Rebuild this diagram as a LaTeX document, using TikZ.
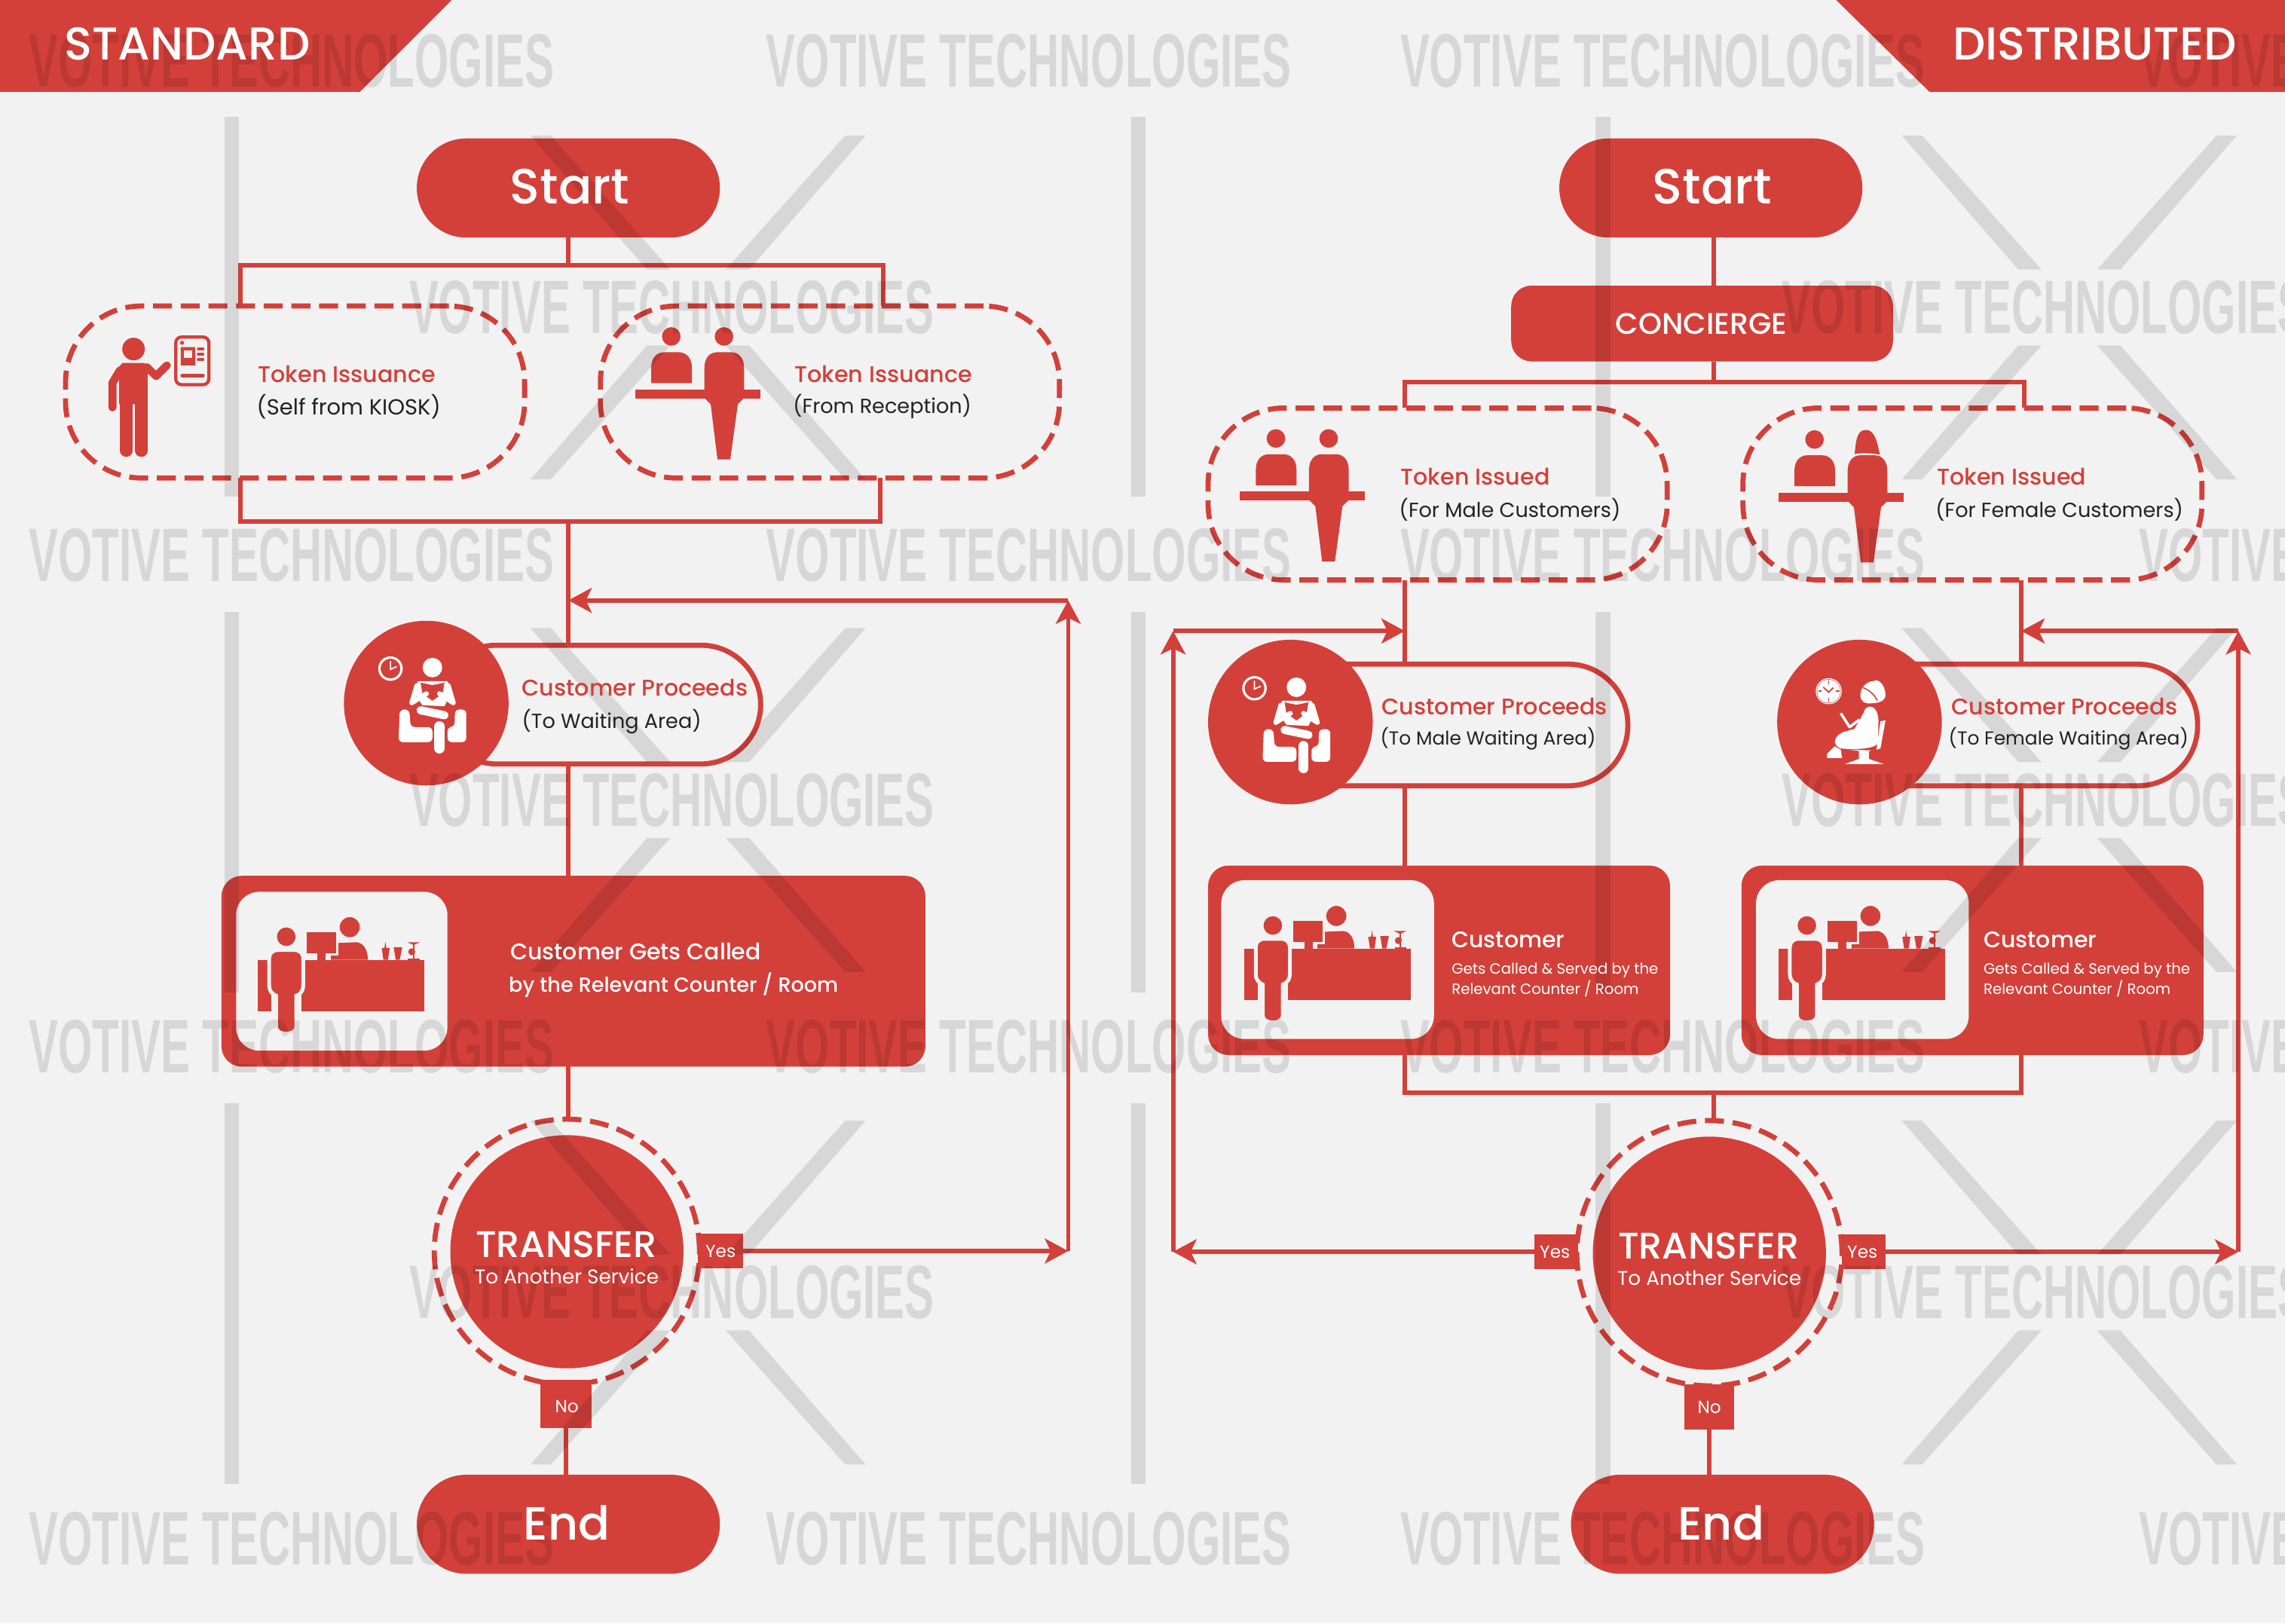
\documentclass[tikz,border=0pt]{standalone}
\usepackage{fontspec}
\setmainfont{Poppins}
\newfontfamily\medfont{Poppins Medium}
\newfontfamily\wmfont{Liberation Sans}
\usepackage{xcolor}
\usetikzlibrary{arrows.meta}

\definecolor{votred}{HTML}{D3403A}
\definecolor{votbg}{HTML}{F2F2F2}
\definecolor{votdark}{HTML}{222222}

\tikzset{
  flowline/.style={votred, line width=3pt},
  flowarrow/.style={flowline, -{Stealth[length=16pt,width=17pt,inset=4pt]}},
  terminal/.style={fill=votred, inner sep=0pt, outer sep=0pt, minimum width=208pt,
    minimum height=68pt, rounded corners=34pt},
  dashbox/.style={draw=votred, line width=3.5pt, dash pattern=on 13pt off 6pt,
    inner sep=0pt, outer sep=0pt, minimum width=315pt, minimum height=118pt, rounded corners=52pt},
  pillbox/.style={draw=votred, fill=votbg, line width=3.5pt, inner sep=0pt, outer sep=0pt,
    minimum width=237pt, minimum height=83.5pt, rounded corners=41pt},
  waitdisc/.style={circle, fill=votred, inner sep=0pt, outer sep=0pt, minimum size=113pt},
  callbox/.style={fill=votred, inner sep=0pt, outer sep=0pt, minimum height=131pt, rounded corners=14pt},
  innerbox/.style={fill=votbg, inner sep=0pt, outer sep=0pt, minimum height=109pt, rounded corners=16pt},
  transdisc/.style={circle, fill=votred, inner sep=0pt, outer sep=0pt, minimum size=160pt},
  transring/.style={circle, draw=votred, line width=3.5pt, dash pattern=on 13pt off 6pt,
    inner sep=0pt, outer sep=0pt, minimum size=182pt},
  tagbox/.style={fill=votred, inner sep=0pt, outer sep=0pt},
  headtxt/.style={white, inner sep=0pt, font=\fontsize{32}{32}\selectfont\medfont},
  bannertxt/.style={white, inner sep=0pt, font=\fontsize{31.6}{31.6}\selectfont\medfont},
  redtxt/.style={votred, anchor=west, inner sep=0pt, font=\fontsize{15.6}{15.6}\selectfont\medfont},
  darktxt/.style={votdark, anchor=west, inner sep=0pt, font=\fontsize{14}{14}\selectfont},
  calltxt/.style={white, anchor=west, inner sep=0pt, font=\fontsize{15.5}{15.5}\selectfont\medfont},
  smalltxt/.style={white, anchor=west, inner sep=0pt, font=\fontsize{10.2}{10.2}\selectfont},
  transtxt/.style={white, inner sep=0pt, font=\fontsize{25.4}{25.4}\selectfont\medfont},
  subtxt/.style={white, inner sep=0pt, font=\fontsize{13.6}{13.6}\selectfont},
  tagtxt/.style={white, inner sep=0pt, font=\fontsize{12}{12}\selectfont},
  wmark/.style={black, opacity=0.11, inner sep=0pt, xscale=0.58, transform shape,
    font=\fontsize{52}{52}\selectfont\wmfont\bfseries},
  wmshape/.style={black, opacity=0.11},
  icon/.style={x=0.1723pt, y=-0.1723pt},
  pics/kioskicon/.style={code={
    \fill[votred] (172,100) circle (45);
    \fill[votred] (128,155) -- (215,155) -- (228,170) -- (228,320) -- (115,320) -- (115,170) -- cycle;
    \draw[votred, line width=5.4pt, line cap=round, line join=round] (225,172) -- (262,208) -- (305,165);
    \draw[votred, line width=5.6pt, line cap=round, line join=round] (118,185) -- (88,235) -- (88,332);
    \draw[votred, line width=8.4pt, line cap=round] (143,320) -- (143,505);
    \draw[votred, line width=8.4pt, line cap=round] (203,320) -- (203,505);
    \draw[votred, line width=2.2pt, rounded corners=4pt] (340,52) rectangle (472,242);
    \fill[votred] (365,75) circle (8);
    \fill[votred, even odd rule] (360,92) rectangle (418,165) (372,105) rectangle (405,135);
    \foreach \py in {100,120,142}
      \draw[votred, line width=2pt, line cap=round] (430,\py) -- (448,\py);
    \draw[votred, line width=2.6pt, line cap=round] (366,206) -- (448,206);
  }},
  pics/recepbody/.style={code={
    \fill[votred] (183,80) circle (37);
    \fill[votred] (103,266) -- (103,205) .. controls (103,165) and (125,143) .. (155,143)
      -- (213,143) .. controls (243,143) and (265,165) .. (265,205) -- (265,266) -- cycle;
    \fill[votred] (40,292) rectangle (537,328);
    \fill[votred] (315,205) .. controls (315,165) and (337,143) .. (365,143) -- (423,143)
      .. controls (451,143) and (473,165) .. (473,205) -- (473,325) -- (448,350)
      -- (418,570) -- (367,570) -- (340,350) -- (315,325) -- cycle;
  }},
  pics/recepmale/.style={code={
    \pic {recepbody};
    \fill[votred] (393,80) circle (37);
  }},
  pics/recepfemale/.style={code={
    \pic {recepbody};
    \fill[votred] (343,138) .. controls (348,80) and (353,42) .. (388,42)
      .. controls (423,42) and (433,90) .. (443,140)
      .. controls (408,135) and (378,132) .. (343,138) -- cycle;
  }},
  pics/clockplain/.style={code={
    \draw[white, line width=1.6pt] (85,112) circle (44);
    \draw[white, line width=0.9pt] (85,82) -- (85,115) -- (110,104);
  }},
  pics/readericon/.style={code={
    \pic {clockplain};
    \fill[white] (252,108) circle (39);
    \fill[white, rounded corners=3pt] (122,275) -- (160,275) -- (165,345) -- (252,345)
      -- (252,405) -- (117,405) -- cycle;
    \fill[white, rounded corners=3pt] (312,345) -- (340,345) -- (342,275) -- (387,275)
      -- (387,405) -- (312,405) -- cycle;
    \fill[white] (195,162) -- (312,162) -- (330,200) -- (300,262) -- (212,258) -- (175,200) -- cycle;
    \fill[votred] (205,168) -- (252,178) -- (300,168) -- (292,212) -- (252,240) -- (212,212) -- cycle;
    \draw[white, line width=3.4pt, line cap=round, line join=round] (190,180) -- (170,248) -- (228,212);
    \draw[white, line width=3.4pt, line cap=round, line join=round] (315,180) -- (335,248) -- (280,212);
    \draw[votred, line width=7.4pt, line cap=round] (205,278) -- (300,298);
    \draw[white, line width=5.6pt, line cap=round] (205,278) -- (300,298);
    \draw[votred, line width=9pt, line cap=round] (280,342) -- (280,432);
    \draw[white, line width=7pt, line cap=round] (280,342) -- (280,430);
  }},
  pics/seatedicon/.style={code={
    \draw[white, line width=0.6pt] (112,112) circle (50);
    \fill[white] (112,112) circle (46);
    \draw[votred, line width=0.8pt] (112,70) -- (112,84) (112,140) -- (112,154)
      (70,112) -- (84,112) (140,112) -- (154,112);
    \draw[votred, line width=0.9pt] (90,96) -- (112,116) -- (130,98);
    \fill[white] (238,125) .. controls (240,95) and (265,72) .. (290,72)
      .. controls (310,60) and (335,85) .. (338,125) .. controls (340,150) and (310,160) .. (285,160)
      .. controls (255,165) and (235,150) .. (238,125) -- cycle;
    \draw[votred, line width=0.8pt] (248,98) .. controls (270,105) and (295,125) .. (305,150);
    \fill[white] (268,175) .. controls (290,170) and (308,185) .. (310,230) -- (308,320)
      .. controls (290,345) and (200,345) .. (160,340) .. controls (125,330) and (130,290) .. (170,275)
      -- (215,262) -- (250,200) .. controls (255,185) and (260,178) .. (268,175) -- cycle;
    \draw[white, line width=1.8pt, line join=round] (160,200) -- (195,255) -- (235,225);
    \fill[white] (318,232) -- (338,228) -- (318,340) -- (302,345) -- cycle;
    \fill[white] (135,332) -- (105,362) -- (105,378) -- (165,378) -- (160,345) -- cycle;
    \fill[white] (190,345) -- (280,348) -- (272,352) -- (272,382) -- (330,402) -- (177,402) -- (232,382) -- (232,350) -- cycle;
  }},
  pics/countericon/.style={code={
    \fill[votred] (240,222) rectangle (730,428);
    \fill[votred] (67,222) rectangle (120,428);
    \fill[votred] (262,113) rectangle (378,197);
    \fill[votred] (305,197) rectangle (338,222);
    \fill[votred] (433,92) circle (40);
    \fill[votred] (358,205) -- (388,205) -- (388,155) -- (460,152)
      .. controls (490,155) and (505,185) .. (505,222) -- (358,222) -- cycle;
    \fill[votred] (560,175) -- (592,175) -- (585,222) -- (567,222) -- cycle;
    \fill[votred] (571,175) -- (575,150) -- (579,175) -- cycle;
    \fill[votred] (608,172) -- (642,172) -- (632,222) -- (616,222) -- cycle;
    \fill[votred] (662,152) -- (712,152) -- (690,162) -- (684,162) -- cycle;
    \fill[votred] (680,190) circle (14);
    \fill[votred] (684,160) rectangle (690,222);
    \fill[votred] (665,216) rectangle (712,222);
    \fill[votred, draw=votbg, line width=2.6pt] (150,183) -- (210,183)
      .. controls (235,183) and (248,195) .. (248,220) -- (248,325)
      .. controls (248,345) and (235,360) .. (220,365) -- (220,490)
      .. controls (220,525) and (140,525) .. (140,490) -- (140,365)
      .. controls (125,360) and (112,345) .. (112,325) -- (112,220)
      .. controls (112,195) and (125,183) .. (150,183) -- cycle;
    \fill[votred] (180,130) circle (37);
  }},
}

\begin{document}
\begin{tikzpicture}[x=1pt, y=-1pt]
  \clip (0,0) rectangle (1568,1114);
  \fill[votbg] (0,0) rectangle (1568,1114);

  \fill[votred] (0,0) -- (310,0) -- (247,63) -- (0,63) -- cycle;
  \fill[votred] (1260,0) -- (1568,0) -- (1568,63) -- (1324,63) -- cycle;

  % standard
  \node[terminal] (startL) at (390,129) {};
  \node[dashbox] (tokenSelf) at (202.5,269) {};
  \node[dashbox] (tokenDesk) at (569.5,269) {};
  \node[pillbox, minimum width=222pt, minimum height=81.5pt] (pillL) at (411,483.5) {};
  \node[callbox, minimum width=483pt] (callL) at (393.5,666.5) {};
  \node[transdisc] (transL) at (389,859) {};
  \node[transring] (ringL) at (389,859) {};
  \node[tagbox, minimum width=31pt, minimum height=24pt] (yesL) at (494.5,858.5) {};
  \node[tagbox, minimum width=35pt, minimum height=33pt] (noL) at (388.5,963.5) {};
  \node[terminal] (endL) at (390,1046) {};
  \coordinate (busTopL) at (390,182);
  \coordinate (busBotL) at (390,358);
  \coordinate (loopBL) at (733,858.5);
  \coordinate (loopTL) at (733,412);

  \draw[flowline] (startL.south) -- (busTopL);
  \draw[flowline] ([xshift=-37.5pt]tokenSelf.north) |- (busTopL) -| ([xshift=36.5pt]tokenDesk.north);
  \draw[flowline] ([xshift=-37.5pt]tokenSelf.south) |- (busBotL) -| ([xshift=34.5pt]tokenDesk.south);
  \draw[flowline] (busBotL) -- (busBotL |- pillL.north);
  \draw[flowline] (busBotL |- pillL.south) -- (busBotL |- callL.north);
  \draw[flowline] (busBotL |- callL.south) -- (busBotL |- ringL.north);
  \draw[flowline] (noL.south) -- (noL.south |- endL.north);
  \draw[flowarrow] (yesL.east) -- (loopBL);
  \draw[flowarrow] (loopBL) -- (loopTL);
  \draw[flowarrow] (loopTL) -- (loopTL -| busBotL);

  \node[waitdisc] (discL) at (292.5,482.5) {};
  \node[innerbox, minimum width=145pt] (innerL) at (234.5,666.5) {};

  % distributed
  \node[terminal] (startR) at (1174,129) {};
  \node[fill=votred, inner sep=0pt, outer sep=0pt, minimum width=262pt, minimum height=52pt,
    rounded corners=14pt] (concR) at (1168,222) {};
  \node[dashbox] (tokenMale) at (986.5,339) {};
  \node[dashbox] (tokenFemale) at (1353.5,339) {};
  \node[pillbox] (pillM) at (998.5,497.5) {};
  \node[pillbox] (pillF) at (1389.5,497.5) {};
  \node[callbox, minimum width=317pt, minimum height=130pt] (callM) at (987.5,659) {};
  \node[callbox, minimum width=317pt, minimum height=130pt] (callF) at (1353.5,659) {};
  \node[transdisc] (transR) at (1173,860) {};
  \node[transring] (ringR) at (1173,860) {};
  \node[tagbox, minimum width=30pt, minimum height=24pt] (yesRL) at (1068,859) {};
  \node[tagbox, minimum width=30pt, minimum height=24pt] (yesRR) at (1279,859) {};
  \node[tagbox, minimum width=34pt, minimum height=31pt] (noR) at (1173,965.5) {};
  \node[terminal] (endR) at (1182,1046) {};
  \coordinate (busTopR) at (1176,262);
  \coordinate (busBotR) at (1176,750);
  \coordinate (colM) at (964,433);
  \coordinate (colF) at (1387,433);
  \coordinate (loopBM) at (805,859);
  \coordinate (loopTM) at (805,433);
  \coordinate (loopBF) at (1536,859);
  \coordinate (loopTF) at (1536,433);

  \draw[flowline] (busTopR |- startR.south) -- (busTopR |- concR.north);
  \draw[flowline] (busTopR |- concR.south) -- (busTopR);
  \draw[flowline] ([xshift=-22.5pt]tokenMale.north) |- (busTopR) -| ([xshift=35.5pt]tokenFemale.north);
  \draw[flowline] (colM |- tokenMale.south) -- (colM |- pillM.north);
  \draw[flowline] (colF |- tokenFemale.south) -- (colF |- pillF.north);
  \draw[flowline] (colM |- pillM.south) -- (colM |- callM.north);
  \draw[flowline] (colF |- pillF.south) -- (colF |- callF.north);
  \draw[flowline] (colM |- callM.south) |- (busBotR) -| (colF |- callF.south);
  \draw[flowline] (busBotR) -- (busBotR |- ringR.north);
  \draw[flowline] (noR.south) -- (noR.south |- endR.north);
  \draw[flowarrow] (yesRL.west) -- (loopBM);
  \draw[flowarrow] (loopBM) -- (loopTM);
  \draw[flowarrow] (loopTM) -- (colM);
  \draw[flowarrow] (yesRR.east) -- (loopBF);
  \draw[flowarrow] (loopBF) -- (loopTF);
  \draw[flowarrow] (loopTF) -- (colF);

  \node[waitdisc] (discM) at (885.5,495.5) {};
  \node[waitdisc] (discF) at (1276,495.5) {};
  \node[innerbox, minimum width=146pt] (innerM) at (911,658.5) {};
  \node[innerbox, minimum width=146pt] (innerF) at (1278,658.5) {};

  % icons
  \path (62,222.3) pic[icon] {kioskicon};
  \path (429.1,217.1) pic[icon] {recepmale};
  \path (844,287.1) pic[icon] {recepmale};
  \path (1213.6,287.8) pic[icon] {recepfemale};
  \path (253.3,439.5) pic[icon] {readericon};
  \path (846.2,453) pic[icon] {readericon};
  \path (1235.6,455) pic[icon] {seatedicon};
  \path (165.4,620.4) pic[icon] {countericon};
  \path (842.4,612.7) pic[icon] {countericon};
  \path (1208.9,612.7) pic[icon] {countericon};

  % watermark
  \foreach \wx in {200,706,1141,1648}
    \foreach \wy in {42,381,718,1056}
      \node[wmark] (wm\wx-\wy) at (\wx,\wy) {VOTIVE TECHNOLOGIES};
  \foreach \wx in {461,1403}
    \foreach \wy in {211,549,887}
      \node[wmark] (wm\wx-\wy) at (\wx,\wy) {VOTIVE TECHNOLOGIES};
  \foreach \bx in {159,781,1100}
    \foreach \by in {80,420,757}
      \fill[wmshape] (\bx-5,\by) rectangle (\bx+5,\by+261);
  \foreach \xc in {479,1420}
    \foreach \yc in {211,549,887}
      \foreach \sx in {-1,1}
        \foreach \sy in {-1,1}
          \fill[wmshape] (\xc+\sx*115,\yc+\sy*118) -- (\xc+\sx*101,\yc+\sy*118)
            -- (\xc+\sx*19,\yc+\sy*26) -- (\xc+\sx*35,\yc+\sy*26) -- cycle;

  % labels
  \node[bannertxt, anchor=west] (titleL) at (44,30) {STANDARD};
  \node[bannertxt, anchor=west] (titleR) at (1340,30) {DISTRIBUTED};
  \node[headtxt, font=\fontsize{34}{34}\selectfont\medfont] (startLtxt) at (391,128) {Start};
  \node[headtxt, font=\fontsize{34}{34}\selectfont\medfont] (startRtxt) at (1175,128) {Start};
  \node[headtxt] (endLtxt) at (389,1045) {End};
  \node[headtxt] (endRtxt) at (1181,1045) {End};
  \node[white, inner sep=0pt, font=\fontsize{20.4}{20.4}\selectfont\medfont] (concTxt) at (1167.5,222) {CONCIERGE};

  \node[redtxt] (tokenSelfa) at (177,257) {Token Issuance};
  \node[darktxt, font=\fontsize{15}{15}\selectfont] (tokenSelfb) at (176,279) {(Self from KIOSK)};
  \node[redtxt] (tokenDeska) at (545,257) {Token Issuance};
  \node[darktxt] (tokenDeskb) at (544,279) {(From Reception)};
  \node[redtxt] (tokenMalea) at (961,327) {Token Issued};
  \node[darktxt] (tokenMaleb) at (960,350) {(For Male Customers)};
  \node[redtxt] (tokenFemalea) at (1329,327) {Token Issued};
  \node[darktxt] (tokenFemaleb) at (1328,350) {(For Female Customers)};

  \node[redtxt] (pillLa) at (358,472) {Customer Proceeds};
  \node[darktxt] (pillLb) at (358,495) {(To Waiting Area)};
  \node[redtxt] (pillMa) at (948,485) {Customer Proceeds};
  \node[darktxt, font=\fontsize{12.9}{12.9}\selectfont] (pillMb) at (947,507) {(To Male Waiting Area)};
  \node[redtxt] (pillFa) at (1339,485) {Customer Proceeds};
  \node[darktxt, font=\fontsize{12.9}{12.9}\selectfont] (pillFb) at (1337,507) {(To Female Waiting Area)};

  \node[calltxt] (callLa) at (350,653) {Customer Gets Called};
  \node[calltxt, font=\fontsize{14}{14}\selectfont\medfont] (callLb) at (349,676) {by the Relevant Counter / Room};
  \node[calltxt] (callMa) at (996,645) {Customer};
  \node[smalltxt] (callMb) at (996,666) {Gets Called \& Served by the};
  \node[smalltxt] (callMc) at (996,678.5) {Relevant Counter / Room};
  \node[calltxt] (callFa) at (1361,645) {Customer};
  \node[smalltxt] (callFb) at (1361,666) {Gets Called \& Served by the};
  \node[smalltxt] (callFc) at (1361,678.5) {Relevant Counter / Room};

  \node[transtxt] (transLa) at (388.5,854) {TRANSFER};
  \node[subtxt] (transLb) at (389,876) {To Another Service};
  \node[transtxt] (transRa) at (1172.5,855) {TRANSFER};
  \node[subtxt] (transRb) at (1173,877) {To Another Service};
  \node[tagtxt] (yesLtxt) at (494.5,858.5) {Yes};
  \node[tagtxt] (noLtxt) at (389,965) {No};
  \node[tagtxt] (yesRLtxt) at (1067,859) {Yes};
  \node[tagtxt] (yesRRtxt) at (1278,859) {Yes};
  \node[tagtxt] (noRtxt) at (1173,966) {No};
\end{tikzpicture}
\end{document}
